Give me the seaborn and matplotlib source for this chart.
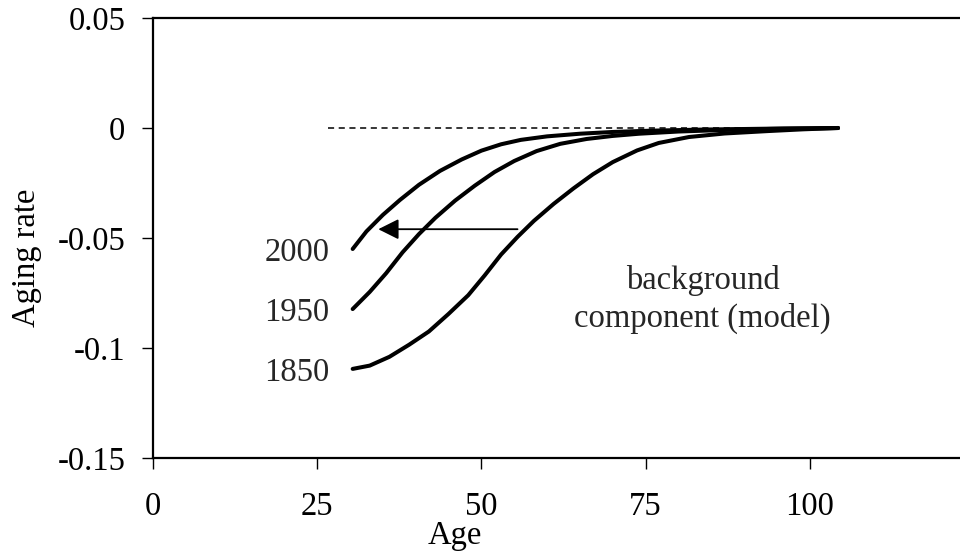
import matplotlib
matplotlib.use("Agg")
import matplotlib.pyplot as plt
import seaborn as sns
import pandas as pd

# ---- data ----
age_1850 = [30.4, 33, 36, 39, 42, 45, 48, 50.5, 53, 55.5, 58, 61, 64, 67, 70, 73.7,
            77, 81.6, 87, 93.6, 99, 104.3]
rate_1850 = [-0.1095, -0.1080, -0.1040, -0.0985, -0.0925, -0.0845, -0.0760, -0.0670,
             -0.0575, -0.0495, -0.0422, -0.0345, -0.0275, -0.0210, -0.0155, -0.0102,
             -0.0068, -0.0041, -0.0025, -0.0014, -0.0006, 0.0]
age_1950 = [30.4, 33, 35.5, 38, 40.5, 43, 46, 49, 52, 55, 58.4, 62, 66, 70, 74, 80,
            88, 96, 104.3]
rate_1950 = [-0.0823, -0.0745, -0.0660, -0.0565, -0.0482, -0.0408, -0.0330, -0.0262,
             -0.0200, -0.0150, -0.0105, -0.0072, -0.0050, -0.0036, -0.0026, -0.0016,
             -0.0008, -0.0003, 0.0]
age_2000 = [30.4, 32.5, 35, 37.6, 40.5, 43.7, 47, 50, 53, 56, 60, 65, 70, 76, 84, 94,
            104.3]
rate_2000 = [-0.0550, -0.0470, -0.0395, -0.0327, -0.0258, -0.0195, -0.0143, -0.0103,
             -0.0074, -0.0054, -0.0038, -0.0026, -0.0018, -0.0012, -0.0007, -0.0003, 0.0]

years = ["1850", "1950", "2000"]
ref_age = [26.6, 104.3]
ref_rate = [0.0, 0.0]

x_ticks = [0, 25, 50, 75, 100]
x_tick_labels = ["0", "25", "50", "75", "100"]
y_ticks = [0.05, 0.0, -0.05, -0.1, -0.15]
y_tick_labels = ["0.05", "0", "-0.05", "-0.1", "-0.15"]

df = pd.concat([
    pd.DataFrame({"Age": age_1850, "rate": rate_1850, "year": years[0]}),
    pd.DataFrame({"Age": age_1950, "rate": rate_1950, "year": years[1]}),
    pd.DataFrame({"Age": age_2000, "rate": rate_2000, "year": years[2]}),
])

sns.set_theme(style="white")
plt.rcParams["font.family"] = ["Liberation Serif", "DejaVu Serif"]
plt.rcParams["axes.unicode_minus"] = False

FS = 23.5
fig = plt.figure(figsize=(9.6, 5.52), dpi=100)
ax = fig.add_axes([153 / 960, 94 / 552, 821 / 960, 440 / 552])

sns.lineplot(data=df, x="Age", y="rate", hue="year", palette=["black"] * 3,
             linewidth=2.9, legend=False, ax=ax, sort=True)
ax.plot(ref_age, ref_rate, color="black", lw=1.1, ls=(0, (4, 3)))

ax.set_xlim(0, 125)
ax.set_ylim(-0.15, 0.05)
ax.set_xticks(x_ticks)
ax.set_xticklabels(x_tick_labels)
ax.set_yticks(y_ticks)
ax.set_yticklabels(y_tick_labels)

ax.tick_params(axis="x", direction="out", length=8, width=1, pad=16,
               labelsize=FS, colors="black", bottom=True)
ax.tick_params(axis="y", direction="out", length=8, width=1, pad=12,
               labelsize=FS, colors="black", left=True)

for side in ["left", "bottom", "top"]:
    ax.spines[side].set_visible(True)
    ax.spines[side].set_color("black")
    ax.spines[side].set_linewidth(1.6)
ax.spines["right"].set_visible(False)

ax.set_xlabel("Age", fontsize=FS, color="black")
ax.set_ylabel("Aging rate", fontsize=FS, color="black")
ax.xaxis.set_label_coords(0.368, -0.142)
ax.yaxis.set_label_coords(-0.135, 0.455)

# year labels
ax.text(26.9, rate_1850[0], years[0], ha="right", va="center_baseline", fontsize=FS)
ax.text(26.9, rate_1950[0], years[1], ha="right", va="center_baseline", fontsize=FS)
ax.text(26.9, rate_2000[0], years[2], ha="right", va="center_baseline", fontsize=FS)

ax.text(83.7, -0.078, "background\ncomponent (model)", ha="center", va="center",
        fontsize=FS, linespacing=1.3)

ax.annotate("", xy=(34.3, -0.046), xytext=(55.5, -0.046),
            arrowprops=dict(arrowstyle="-|>,head_length=0.5,head_width=0.25",
                            lw=1.3, color="black", mutation_scale=25,
                            shrinkA=0, shrinkB=0))

fig.savefig("out.png", dpi=100)
